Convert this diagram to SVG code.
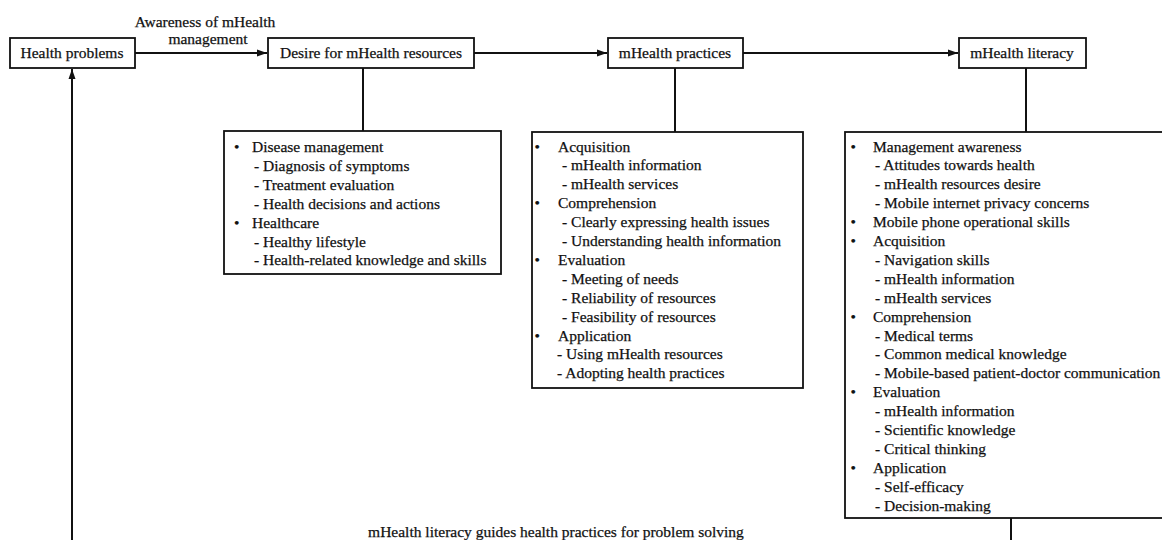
<svg xmlns="http://www.w3.org/2000/svg" width="1162" height="540" viewBox="0 0 1162 540">
<style>
text{font-family:"Liberation Serif","Times New Roman",serif;font-size:15.5px;fill:#111;stroke:#111;stroke-width:0.25}
.c{text-anchor:middle}
.box{fill:#fff;stroke:#111;stroke-width:1.8}
.ln{fill:none;stroke:#111;stroke-width:2}
</style>
<defs>
<marker id="ah" viewBox="0 0 10 10" refX="10" refY="5" markerWidth="10" markerHeight="10" markerUnits="userSpaceOnUse" orient="auto">
<path d="M0,1.5 L10,5 L0,8.5 Z" fill="#111"/>
</marker>
</defs>
<rect width="1162" height="540" fill="#fff"/>
<g id="connectors">
<path class="ln" d="M135,53 H267" marker-end="url(#ah)"/>
<path class="ln" d="M474,53 H607" marker-end="url(#ah)"/>
<path class="ln" d="M743,53 H958" marker-end="url(#ah)"/>
<path class="ln" d="M363,68 V131"/>
<path class="ln" d="M675,68 V132"/>
<path class="ln" d="M1026,68 V132"/>
<path class="ln" d="M1011,518 V570 H72 V69" marker-end="url(#ah)"/>
<text class="c" x="205" y="27">Awareness of mHealth</text>
<text class="c" x="208" y="44">management</text>
<text class="c" x="556" y="537">mHealth literacy guides health practices for problem solving</text>
</g>
<g id="health-problems">
<rect class="box" x="10" y="38" width="125" height="30"/>
<text class="c" x="72" y="58">Health problems</text>
</g>
<g id="desire">
<rect class="box" x="268" y="38" width="206" height="30"/>
<text class="c" x="371" y="58">Desire for mHealth resources</text>
</g>
<g id="practices">
<rect class="box" x="608" y="38" width="135" height="30"/>
<text class="c" x="675" y="58">mHealth practices</text>
</g>
<g id="literacy">
<rect class="box" x="959" y="38" width="127" height="30"/>
<text class="c" x="1022" y="58">mHealth literacy</text>
</g>
<g id="desire-details">
<rect class="box" x="224" y="131" width="277" height="143"/>
<text x="234" y="152">•</text><text x="252" y="152">Disease management</text>
<text x="254" y="170.9">- Diagnosis of symptoms</text>
<text x="254" y="189.8">- Treatment evaluation</text>
<text x="254" y="208.7">- Health decisions and actions</text>
<text x="234" y="227.6">•</text><text x="252" y="227.6">Healthcare</text>
<text x="254" y="246.5">- Healthy lifestyle</text>
<text x="254" y="265.4">- Health-related knowledge and skills</text>
</g>
<g id="practices-details">
<rect class="box" x="532" y="132" width="271" height="256"/>
<text x="534.5" y="151.5">•</text><text x="558" y="151.5">Acquisition</text>
<text x="562" y="170.4">- mHealth information</text>
<text x="562" y="189.3">- mHealth services</text>
<text x="534.5" y="208.2">•</text><text x="558" y="208.2">Comprehension</text>
<text x="562" y="227.1">- Clearly expressing health issues</text>
<text x="562" y="246">- Understanding health information</text>
<text x="534.5" y="264.9">•</text><text x="558" y="264.9">Evaluation</text>
<text x="562" y="283.8">- Meeting of needs</text>
<text x="562" y="302.7">- Reliability of resources</text>
<text x="562" y="321.6">- Feasibility of resources</text>
<text x="534.5" y="340.5">•</text><text x="558" y="340.5">Application</text>
<text x="557" y="359.4">- Using mHealth resources</text>
<text x="557" y="378.3">- Adopting health practices</text>
</g>
<g id="literacy-details">
<rect class="box" x="845" y="132" width="330" height="386"/>
<text x="850.5" y="151.5">•</text><text x="873" y="151.5">Management awareness</text>
<text x="875" y="170.4">- Attitudes towards health</text>
<text x="875" y="189.3">- mHealth resources desire</text>
<text x="875" y="208.2">- Mobile internet privacy concerns</text>
<text x="850.5" y="227.1">•</text><text x="873" y="227.1">Mobile phone operational skills</text>
<text x="850.5" y="246">•</text><text x="873" y="246">Acquisition</text>
<text x="875" y="264.9">- Navigation skills</text>
<text x="875" y="283.8">- mHealth information</text>
<text x="875" y="302.7">- mHealth services</text>
<text x="850.5" y="321.6">•</text><text x="873" y="321.6">Comprehension</text>
<text x="875" y="340.5">- Medical terms</text>
<text x="875" y="359.4">- Common medical knowledge</text>
<text x="875" y="378.3">- Mobile-based patient-doctor communication</text>
<text x="850.5" y="397.2">•</text><text x="873" y="397.2">Evaluation</text>
<text x="875" y="416.1">- mHealth information</text>
<text x="875" y="435">- Scientific knowledge</text>
<text x="875" y="453.9">- Critical thinking</text>
<text x="850.5" y="472.8">•</text><text x="873" y="472.8">Application</text>
<text x="875" y="491.7">- Self-efficacy</text>
<text x="875" y="510.6">- Decision-making</text>
</g>
</svg>
